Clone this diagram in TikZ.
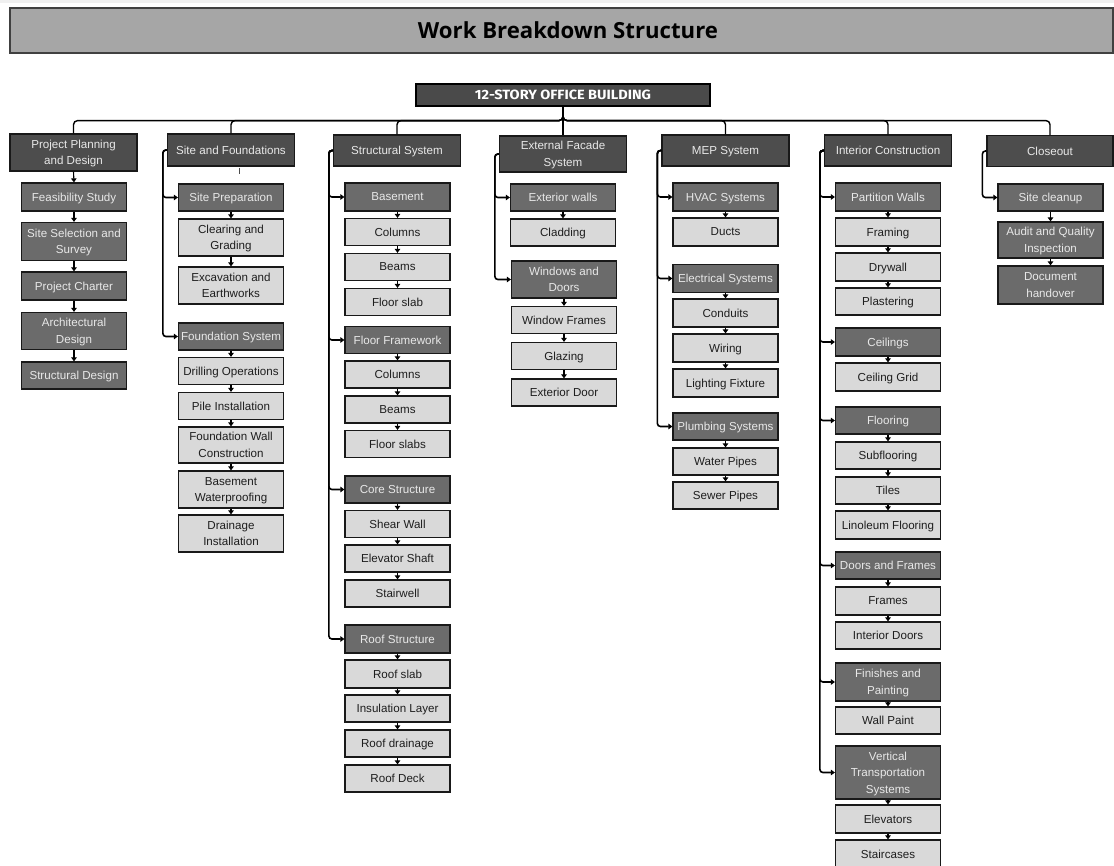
\documentclass[tikz,border=0pt]{standalone}
\usepackage{fontspec}
\usepackage{graphicx}
\setmainfont{Liberation Sans}
\newfontfamily\headfont{Open Sans}
\newfontfamily\rootfont{Fira Sans}
\usetikzlibrary{arrows.meta}

\definecolor{cTitle}{HTML}{A6A6A6}
\definecolor{cRoot}{HTML}{4A4A4A}
\definecolor{cTop}{HTML}{4D4D4D}
\definecolor{cMid}{HTML}{6B6B6B}
\definecolor{cLeaf}{HTML}{D9D9D9}
\definecolor{cLightText}{HTML}{E8E8E8}
\definecolor{cDarkText}{HTML}{1E1E1E}

\tikzset{
  box/.style={draw=black!90, line width=1.2pt, inner sep=0pt, align=center,
              text depth=0pt, font=\fontsize{11.6}{16.5}\selectfont},
  topbox/.style={box, fill=cTop, text=cLightText, minimum width=127},
  midbox/.style={box, fill=cMid, text=cLightText, minimum width=105},
  leafbox/.style={box, fill=cLeaf, text=cDarkText, minimum width=105},
  chain/.style={line width=1.1pt, -{Triangle[length=4pt,width=5.5pt]}},
  branch/.style={line width=1.6pt, rounded corners=3pt, -{Triangle[length=4pt,width=5.5pt]}},
  bus/.style={line width=1.4pt, rounded corners=4pt},
}

\begin{document}
\begin{tikzpicture}[x=1pt,y=-1pt]
\useasboundingbox (0,0) rectangle (1114,866);
\fill[white] (0,0) rectangle (1114,866);
\fill[black!6] (0,0) rectangle (1114,3);

% heading
\node[draw=black!75, line width=1.2pt, fill=cTitle, minimum width=1103, minimum height=45, inner sep=0pt] (titlebar) at (561.5,30.5) {};
\node[inner sep=0pt] (titletext) at (568,30) {\headfont\bfseries\resizebox{300pt}{!}{Work Breakdown Structure}};

% root
\node[draw=black, line width=1.2pt, fill=cRoot, text=white, minimum width=294, minimum height=22, inner sep=0pt] (root) at (563,95)
  {\resizebox{176pt}{9.5pt}{\rootfont\bfseries 12-STORY OFFICE BUILDING}};

% level 1
\node[topbox, minimum height=37] (ppd) at (73.5,152.5) {Project Planning\\and Design};
\node[topbox, minimum height=32] (sfd) at (231,150) {Site and Foundations};
\node[topbox, minimum height=31] (sts) at (397,150.5) {Structural System};
\node[topbox, minimum height=36] (efs) at (563,154) {External Facade\\System};
\node[topbox, minimum height=31] (mep) at (725.5,150.5) {MEP System};
\node[topbox, minimum height=31] (inc) at (888,150.5) {Interior Construction};
\node[topbox, minimum height=31, minimum width=126] (clo) at (1050,151) {Closeout};

\foreach \n in {ppd,sfd,sts,efs,mep,inc,clo}
  \draw[bus] (root.south) -- ++(0,14) -| (\n.north);

% project planning and design
\node[midbox, minimum height=28] (fea) at (74,197) {Feasibility Study};
\node[midbox, minimum height=38] (sel) at (74,241.5) {Site Selection and\\Survey};
\node[midbox, minimum height=28] (cha) at (74,286) {Project Charter};
\node[midbox, minimum height=37] (arc) at (74,331) {Architectural\\Design};
\node[midbox, minimum height=27] (sde) at (74,375.5) {Structural Design};
\draw[chain] (ppd.south) -- (fea.north);
\draw[chain] (fea.south) -- (sel.north);
\draw[chain] (sel.south) -- (cha.north);
\draw[chain] (cha.south) -- (arc.north);
\draw[chain] (arc.south) -- (sde.north);

% site and foundations
\node[midbox, minimum height=27] (spr) at (231,197.5) {Site Preparation};
\node[leafbox, minimum height=37] (clg) at (231,237.5) {Clearing and\\Grading};
\node[leafbox, minimum height=37] (exc) at (231,285.5) {Excavation and\\Earthworks};
\node[midbox, minimum height=27] (fsy) at (231,336.5) {Foundation System};
\node[leafbox, minimum height=27] (dri) at (231,371) {Drilling Operations};
\node[leafbox, minimum height=27] (pil) at (231,406) {Pile Installation};
\node[leafbox, minimum height=36] (fwc) at (231,445) {Foundation Wall\\Construction};
\node[leafbox, minimum height=37] (bwp) at (231,489.5) {Basement\\Waterproofing};
\node[leafbox, minimum height=37] (drn) at (231,533.5) {Drainage\\Installation};
\draw[line width=0.8pt, black!70] ([xshift=8pt,yshift=-1pt]sfd.south) -- ++(0,6);
\draw[branch] (sfd.west) -- ++(-4,0) |- (spr.west);
\draw[branch] (sfd.west) -- ++(-4,0) |- (fsy.west);
\draw[chain] (spr.south) -- (clg.north);
\draw[chain] (clg.south) -- (exc.north);
\draw[chain] (fsy.south) -- (dri.north);
\draw[chain] (dri.south) -- (pil.north);
\draw[chain] (pil.south) -- (fwc.north);
\draw[chain] (fwc.south) -- (bwp.north);
\draw[chain] (bwp.south) -- (drn.north);

% structural system
\node[midbox, minimum height=28] (bas) at (397.5,197) {Basement};
\node[leafbox, minimum height=27] (bco) at (397.5,232) {Columns};
\node[leafbox, minimum height=27] (bbe) at (397.5,267) {Beams};
\node[leafbox, minimum height=27] (bfs) at (397.5,302) {Floor slab};
\node[midbox, minimum height=27] (ffw) at (397.5,340) {Floor Framework};
\node[leafbox, minimum height=27] (fco) at (397.5,374.5) {Columns};
\node[leafbox, minimum height=27] (fbe) at (397.5,409.5) {Beams};
\node[leafbox, minimum height=27] (ffs) at (397.5,444) {Floor slabs};
\node[midbox, minimum height=27] (cor) at (397.5,489.5) {Core Structure};
\node[leafbox, minimum height=27] (shw) at (397.5,524) {Shear Wall};
\node[leafbox, minimum height=27] (els) at (397.5,558.5) {Elevator Shaft};
\node[leafbox, minimum height=27] (stw) at (397.5,593.5) {Stairwell};
\node[midbox, minimum height=28] (rfs) at (397.5,639) {Roof Structure};
\node[leafbox, minimum height=28] (rsl) at (397.5,674) {Roof slab};
\node[leafbox, minimum height=27] (ins) at (397.5,708.5) {Insulation Layer};
\node[leafbox, minimum height=27] (rdr) at (397.5,743.5) {Roof drainage};
\node[leafbox, minimum height=27] (rdk) at (397.5,778.5) {Roof Deck};
\foreach \n in {bas,ffw,cor,rfs}
  \draw[branch] (sts.west) -- ++(-4,0) |- (\n.west);
\draw[chain] (bas.south) -- (bco.north);
\draw[chain] (bco.south) -- (bbe.north);
\draw[chain] (bbe.south) -- (bfs.north);
\draw[chain] (ffw.south) -- (fco.north);
\draw[chain] (fco.south) -- (fbe.north);
\draw[chain] (fbe.south) -- (ffs.north);
\draw[chain] (cor.south) -- (shw.north);
\draw[chain] (shw.south) -- (els.north);
\draw[chain] (els.south) -- (stw.north);
\draw[chain] (rfs.south) -- (rsl.north);
\draw[chain] (rsl.south) -- (ins.north);
\draw[chain] (ins.south) -- (rdr.north);
\draw[chain] (rdr.south) -- (rdk.north);

% external facade system
\node[midbox, minimum height=27] (exw) at (563,197.5) {Exterior walls};
\node[leafbox, minimum height=27] (cld) at (563,232.5) {Cladding};
\node[midbox, minimum height=37] (wdo) at (564,279.5) {Windows and\\Doors};
\node[leafbox, minimum height=27] (wfr) at (564,320) {Window Frames};
\node[leafbox, minimum height=27] (glz) at (564,356) {Glazing};
\node[leafbox, minimum height=27] (exd) at (564,392.5) {Exterior Door};
\foreach \n in {exw,wdo}
  \draw[branch] (efs.west) -- ++(-4,0) |- (\n.west);
\draw[chain] (exw.south) -- (cld.north);
\draw[chain] (wdo.south) -- (wfr.north);
\draw[chain] (wfr.south) -- (glz.north);
\draw[chain] (glz.south) -- (exd.north);

% MEP system
\node[midbox, minimum height=28] (hva) at (725.5,197) {HVAC Systems};
\node[leafbox, minimum height=28] (dct) at (725.5,232) {Ducts};
\node[midbox, minimum height=28] (ele) at (725.5,278.5) {Electrical Systems};
\node[leafbox, minimum height=28] (cnd) at (725.5,313) {Conduits};
\node[leafbox, minimum height=28] (wir) at (725.5,348) {Wiring};
\node[leafbox, minimum height=28] (lfx) at (725.5,383) {Lighting Fixture};
\node[midbox, minimum height=27] (plu) at (725.5,426.5) {Plumbing Systems};
\node[leafbox, minimum height=27] (wtp) at (725.5,461.5) {Water Pipes};
\node[leafbox, minimum height=27] (swp) at (725.5,495.5) {Sewer Pipes};
\foreach \n in {hva,ele,plu}
  \draw[branch] (mep.west) -- ++(-4,0) |- (\n.west);
\draw[chain] (hva.south) -- (dct.north);
\draw[chain] (ele.south) -- (cnd.north);
\draw[chain] (cnd.south) -- (wir.north);
\draw[chain] (wir.south) -- (lfx.north);
\draw[chain] (plu.south) -- (wtp.north);
\draw[chain] (wtp.south) -- (swp.north);

% interior construction
\node[midbox, minimum height=28] (paw) at (888,197) {Partition Walls};
\node[leafbox, minimum height=28] (frm) at (888,232) {Framing};
\node[leafbox, minimum height=28] (dry) at (888,267) {Drywall};
\node[leafbox, minimum height=27] (pla) at (888,301.5) {Plastering};
\node[midbox, minimum height=28] (cei) at (888,342) {Ceilings};
\node[leafbox, minimum height=28] (ceg) at (888,377) {Ceiling Grid};
\node[midbox, minimum height=27] (flo) at (888,420.5) {Flooring};
\node[leafbox, minimum height=27] (sub) at (888,455.5) {Subflooring};
\node[leafbox, minimum height=27] (til) at (888,490.5) {Tiles};
\node[leafbox, minimum height=28] (lin) at (888,525) {Linoleum Flooring};
\node[midbox, minimum height=27] (daf) at (888,565.5) {Doors and Frames};
\node[leafbox, minimum height=28] (fra) at (888,601) {Frames};
\node[leafbox, minimum height=27] (ind) at (888,635.5) {Interior Doors};
\node[midbox, minimum height=38] (fin) at (888,682) {Finishes and\\Painting};
\node[leafbox, minimum height=27] (wpa) at (888,720.5) {Wall Paint};
\node[midbox, minimum height=53] (vts) at (888,772.5) {Vertical\\Transportation\\Systems};
\node[leafbox, minimum height=28] (elv) at (888,819) {Elevators};
\node[leafbox, minimum height=28] (stc) at (888,854) {Staircases};
\foreach \n in {paw,cei,flo,daf,fin,vts}
  \draw[branch] (inc.west) -- ++(-4,0) |- (\n.west);
\draw[chain] (paw.south) -- (frm.north);
\draw[chain] (frm.south) -- (dry.north);
\draw[chain] (dry.south) -- (pla.north);
\draw[chain] (cei.south) -- (ceg.north);
\draw[chain] (flo.south) -- (sub.north);
\draw[chain] (sub.south) -- (til.north);
\draw[chain] (til.south) -- (lin.north);
\draw[chain] (daf.south) -- (fra.north);
\draw[chain] (fra.south) -- (ind.north);
\draw[chain] (fin.south) -- (wpa.north);
\draw[chain] (vts.south) -- (elv.north);
\draw[chain] (elv.south) -- (stc.north);

% closeout
\node[midbox, minimum height=27] (scu) at (1050.5,197.5) {Site cleanup};
\node[midbox, minimum height=36] (aqi) at (1050.5,240) {Audit and Quality\\Inspection};
\node[midbox, minimum height=38] (dho) at (1050.5,285) {Document\\handover};
\draw[branch] (clo.west) -- ++(-4,0) |- (scu.west);
\draw[chain] (scu.south) -- (aqi.north);
\draw[chain] (aqi.south) -- (dho.north);
\end{tikzpicture}
\end{document}
